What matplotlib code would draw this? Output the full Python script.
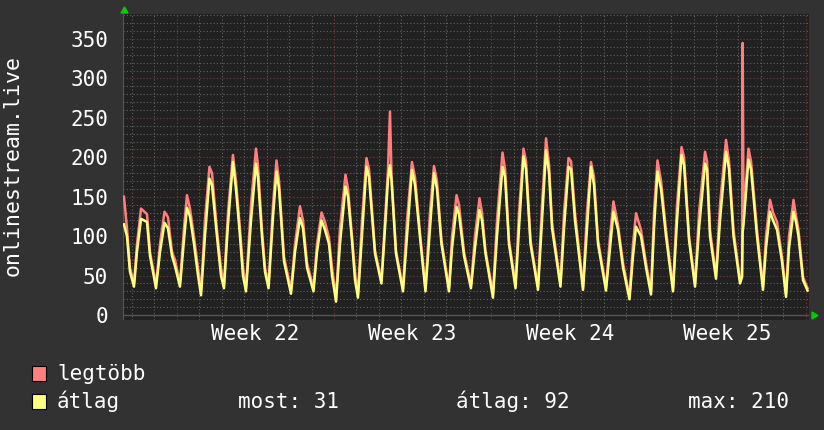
import matplotlib
matplotlib.use('Agg')
import matplotlib.pyplot as plt
from matplotlib.patches import Rectangle, Polygon

# ---- data (time in hours from Monday 00:00 of Week 22) ----
hours = [-56.3, -53.1, -49.9, -45.6, -42.4, -38.1, -31.7, -28.5, -22.1,
         -17.8, -13.0, -9.3, -5.0, -1.8, 3.5,
         7.8, 11.0, 14.2, 18.5, 22.8, 26.0,
         30.2, 35.0, 37.7, 43.0, 47.3, 50.5,
         54.8, 60.1, 63.3, 67.6, 70.8, 74.0,
         79.4, 84.7, 86.8, 91.1, 94.3, 98.1,
         102.9, 106.6, 109.3, 114.6, 122.1,
         126.4, 131.7, 134.9, 139.2, 146.1,
         149.9, 154.7, 158.4, 162.7, 165.9, 170.2,
         174.4, 180.3, 183.0, 187.2, 190.4, 193.6,
         197.9, 202.7, 205.4, 211.8, 218.7,
         222.5, 225.7, 227.8, 229.5, 234.2, 241.7,
         246.0, 251.3, 254.5, 259.9, 265.7,
         270.5, 274.8, 278.0, 282.8, 290.8,
         294.1, 298.9, 301.5, 306.9, 314.3,
         318.6, 323.4, 326.1, 329.8, 337.8,
         342.1, 348.0, 350.7, 354.9, 361.9,
         365.6, 370.4, 373.1, 377.9, 385.9,
         390.2, 394.5, 397.7, 400.9, 409.9,
         413.7, 418.5, 421.2, 425.4, 434.0,
         438.2, 442.5, 445.7, 450.0, 458.5,
         462.8, 466.5, 471.4, 476.7, 483.6,
         487.4, 490.6, 495.9, 501.3, 506.6,
         509.8, 513.5, 517.3, 522.6, 530.1,
         534.4, 539.2, 541.9, 547.2, 553.6,
         557.9, 564.3, 566.4, 569.6, 576.0,
         580.3, 586.7, 589.9, 594.7, 601.7,
         603.8, 604.5, 605.4, 607.0, 610.7, 613.4, 619.8, 626.2,
         629.4, 633.7, 636.9, 641.2, 646.5, 650.8,
         654.0, 658.8, 661.5, 664.1, 669.0, 673.8]

max_vals = [150, 110, 60, 40, 90, 135, 128, 80, 38,
            90, 131, 124, 80, 70, 40,
            110, 152, 135, 99, 60, 30,
            120, 188, 180, 108, 60, 38,
            130, 203, 170, 110, 60, 35,
            140, 211, 190, 108, 60, 38,
            140, 196, 170, 74, 32,
            90, 138, 120, 66, 34,
            90, 130, 118, 98, 60, 22,
            110, 178, 160, 100, 55, 26,
            120, 199, 185, 82, 44,
            120, 185, 258, 175, 82, 34,
            120, 194, 175, 104, 34,
            130, 189, 170, 95, 34,
            100, 152, 140, 80, 38,
            100, 148, 130, 82, 27,
            120, 206, 185, 95, 38,
            130, 211, 195, 95, 36,
            140, 224, 190, 117, 40,
            130, 199, 195, 130, 36,
            130, 194, 175, 95, 35,
            100, 144, 114, 66, 24,
            90, 129, 108, 66, 30,
            130, 196, 170, 108, 34,
            140, 213, 200, 100, 40,
            130, 207, 195, 108, 50,
            140, 222, 195, 108, 44,
            50, 345, 120, 150, 211, 195, 108, 36,
            100, 146, 130, 118, 74, 27,
            100, 146, 125, 108, 48, 34]

avg_vals = [115, 100, 55, 36, 80, 122, 118, 75, 34,
            80, 117, 110, 75, 62, 36,
            95, 136, 125, 90, 50, 25,
            100, 173, 165, 100, 50, 34,
            115, 194, 160, 100, 50, 30,
            120, 192, 175, 100, 55, 34,
            125, 182, 160, 68, 27,
            80, 123, 110, 60, 30,
            80, 120, 108, 90, 50, 17,
            90, 163, 150, 95, 45, 22,
            100, 188, 175, 78, 40,
            110, 172, 190, 170, 78, 30,
            100, 184, 165, 98, 30,
            110, 180, 160, 90, 30,
            85, 137, 128, 75, 34,
            85, 133, 120, 78, 22,
            100, 188, 175, 90, 34,
            110, 201, 185, 90, 32,
            120, 209, 180, 110, 36,
            110, 188, 185, 120, 32,
            110, 188, 165, 90, 31,
            85, 131, 108, 60, 20,
            75, 112, 100, 60, 26,
            110, 182, 160, 100, 30,
            120, 203, 190, 95, 36,
            110, 192, 185, 100, 46,
            120, 207, 185, 100, 40,
            48, 105, 115, 140, 197, 185, 100, 32,
            85, 131, 120, 108, 68, 23,
            85, 131, 118, 100, 44, 31]

week_labels = ['Week 22', 'Week 23', 'Week 24', 'Week 25']
y_ticks = [0, 50, 100, 150, 200, 250, 300, 350]
series_names = ['legtöbb', 'átlag']
stat_texts = ['most: 31', 'átlag: 92', 'max: 210']
y_title = 'onlinestream.live'

# ---- style ----
W, H = 824, 430
BG = '#323232'
CANVAS = '#212121'
RED = '#FF7F7F'
YEL = '#FFFF7F'
MINOR = '#626262'
MAJOR = '#803838'
FONT = 'DejaVu Sans Mono'
FS = 15

def fx(px):
    return px / W

def fy(py):
    return 1 - py / H

fig = plt.figure(figsize=(W / 100, H / 100), dpi=100, facecolor=BG)
ax = fig.add_axes([fx(123.5), fy(320), fx(808.5) - fx(123.5), fy(14) - fy(320)])
ax.set_facecolor(CANVAS)
ax.set_xlim(-56.8, 674.8)
ax.set_ylim(-6.3, 381.7)
for s in ax.spines.values():
    s.set_visible(False)

# grid
dots = (0, (1, 2))
for d in range(-48, 675, 24):
    if d % 168 != 0:
        ax.axvline(d, color=MINOR, lw=0.8, ls=dots, zorder=1)
for d in range(0, 675, 168):
    ax.axvline(d, color=MAJOR, lw=0.8, ls=dots, zorder=1)
for v in range(10, 382, 10):
    if v % 50 != 0:
        ax.axhline(v, color=MINOR, lw=0.8, ls=dots, zorder=1)
for v in range(50, 351, 50):
    ax.axhline(v, color=MAJOR, lw=0.8, ls=dots, zorder=1)
ax.axhline(0, color='#555555', lw=1.0, zorder=2)
ax.axvline(-56.8, color='#555555', lw=1.5, zorder=2)

# data
ax.plot(hours, max_vals, color=RED, lw=1.8, zorder=3)
ax.plot(hours, avg_vals, color=YEL, lw=1.8, zorder=4)

# ticks
ax.set_yticks(y_ticks)
ax.set_yticklabels([str(v) for v in y_ticks], fontfamily=FONT, fontsize=FS, color='white')
ax.set_xticks([84 + 168 * i for i in range(len(week_labels))])
ax.set_xticklabels(week_labels, fontfamily=FONT, fontsize=FS, color='white')
ax.tick_params(axis='y', length=0, pad=11)
ax.tick_params(axis='x', length=0, pad=3)

fig.text(fx(13), fy(165), y_title, rotation=90, ha='center', va='center',
         fontfamily=FONT, fontsize=FS + 0.5, color='white')

# arrows
fig.add_artist(Polygon([[fx(121), fy(13)], [fx(128), fy(13)], [fx(124.5), fy(7)]],
                       closed=True, color='#00cc00', transform=fig.transFigure))
fig.add_artist(Polygon([[fx(812), fy(312)], [fx(812), fy(319)], [fx(818), fy(315.5)]],
                       closed=True, color='#00cc00', transform=fig.transFigure))

# legend
for i, (name, col) in enumerate(zip(series_names, [RED, YEL])):
    top = 366 + 28 * i
    fig.add_artist(Rectangle((fx(32), fy(top + 15)), 14 / W, 15 / H, facecolor=col,
                             edgecolor='black', lw=0.8, transform=fig.transFigure))
    fig.text(fx(57), fy(top + 7.5), name, ha='left', va='center',
             fontfamily=FONT, fontsize=FS, color='white')
for x0, t in zip([238, 456, 688], stat_texts):
    fig.text(fx(x0), fy(401.5), t, ha='left', va='center',
             fontfamily=FONT, fontsize=FS, color='white')

fig.savefig('out.png', dpi=100, facecolor=BG)
